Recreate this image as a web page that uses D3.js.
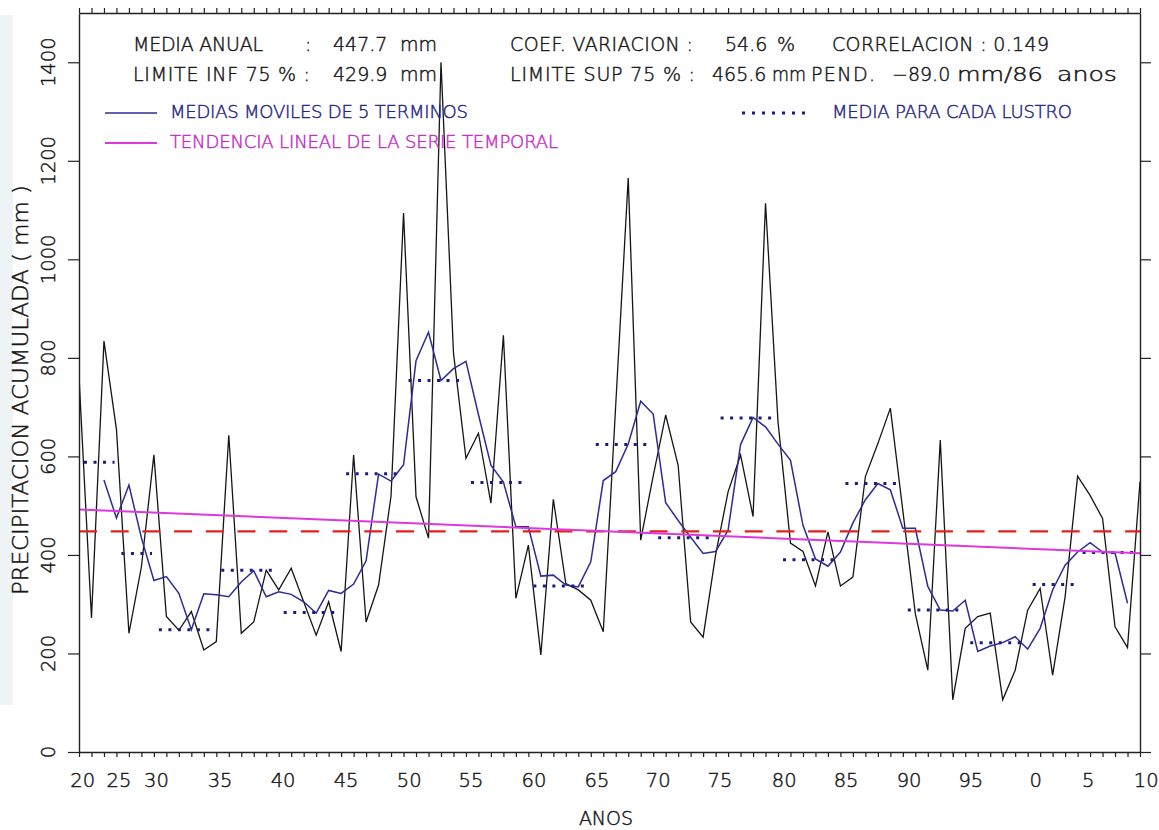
<!DOCTYPE html>
<html>
<head>
<meta charset="utf-8">
<script src="https://cdn.jsdelivr.net/npm/d3@7"></script>
<style>
  html, body { margin: 0; padding: 0; background: #fff; }
  svg { display: block; }
  text { font-family: "DejaVu Sans", sans-serif; font-weight: 300; stroke-width: 0.45px; }
</style>
</head>
<body>
<svg id="chart" width="1159" height="830"></svg>
<script>
// ---- Serie anual de precipitacion acumulada (mm), 1924-2009 ----
const firstYear = 1924;
const annualPrecip = [
  762, 272, 834, 655, 241, 376, 603, 275, 247, 285,
  207, 224, 643, 241, 264, 369, 329, 373, 305, 237,
  305, 204, 603, 264, 339, 520, 1094, 518, 434, 1400,
  810, 596, 647, 505, 846, 312, 420, 197, 513, 342,
  329, 308, 244, 705, 1165, 430, 560, 684, 582, 264,
  233, 400, 528, 603, 478, 1114, 670, 424, 407, 337,
  447, 337, 355, 559, 626, 698, 490, 281, 166, 633,
  106, 251, 275, 282, 106, 166, 288, 332, 156, 315,
  560, 521, 474, 254, 212, 549
];

// Medias moviles de 5 terminos (desde 1926)
const movingAvgFirstYear = 1926;
const movingAvg5 = [
  552, 475, 542, 435, 348, 356, 322, 248, 321, 319,
  315, 345, 368, 315, 325, 320, 305, 282, 328, 322,
  341, 388, 564, 550, 583, 794, 852, 754, 778, 793,
  685, 582, 548, 457, 457, 357, 359, 339, 335, 386,
  551, 569, 625, 712, 686, 506, 470, 436, 403, 407,
  450, 624, 679, 660, 625, 592, 460, 392, 377, 406,
  465, 512, 545, 532, 454, 454, 336, 288, 286, 308,
  204, 215, 222, 234, 209, 251, 329, 379, 406, 425,
  406, 404, 302
];

// Media para cada lustro
const lustroFirst = [1925, 1928, 1931, 1936, 1941, 1946, 1951, 1956, 1961, 1966, 1971, 1976, 1981, 1986, 1991, 1996, 2001, 2005];
const lustroLast  = [1927, 1930, 1935, 1940, 1945, 1950, 1955, 1960, 1965, 1970, 1975, 1980, 1985, 1990, 1995, 2000, 2004, 2009];
const lustroMean  = [588, 403, 248, 369, 283, 565, 754, 547, 337, 624, 435, 678, 390, 545, 288, 222, 340, 405];

// Estadisticos de la serie
const mediaAnual = 447.7;
const limiteInf75 = 429.9;
const limiteSup75 = 465.6;
const coefVariacion = 54.6;
const correlacion = 0.149;
const pendiente = -89.0;
const anosSerie = 86;

// Ejes
const yTicks = [0, 200, 400, 600, 800, 1000, 1200, 1400];
const xTickLabels = ["20", "25", "30", "35", "40", "45", "50", "55", "60", "65", "70", "75", "80", "85", "90", "95", "0", "5", "10"];
const xTickLabelYears = [1924.3, 1927.2, 1930.2, 1935.3, 1940.35, 1945.4, 1950.45, 1955.4, 1960.45, 1965.5, 1970.4, 1975.35, 1980.5, 1985.45, 1990.5, 1995.45, 2000.65, 2004.85, 2009.5];

// ---- Layout ----
const W = 1159, H = 830;
const plot = { left: 79, right: 1140, top: 13, bottom: 752 };
const lastYear = firstYear + annualPrecip.length - 1;
const years = annualPrecip.map((_, i) => firstYear + i);

const x = d3.scaleLinear().domain([firstYear, lastYear]).range([plot.left, plot.right]);
const y = d3.scaleLinear().domain([0, 1500]).range([plot.bottom, plot.top]);

const svg = d3.select("#chart");
svg.append("rect").attr("width", W).attr("height", H).attr("fill", "#fff");
svg.append("rect").attr("x", 0).attr("y", 15).attr("width", 13).attr("height", 690).attr("fill", "#eef3f5");

svg.append("clipPath").attr("id", "plotClip")
  .append("rect")
  .attr("x", plot.left).attr("y", plot.top)
  .attr("width", plot.right - plot.left).attr("height", plot.bottom - plot.top);

const marks = svg.append("g").attr("clip-path", "url(#plotClip)");

// serie anual
const line = d3.line().x(d => x(d[0])).y(d => y(d[1]));
marks.append("path")
  .datum(years.map((yr, i) => [yr, annualPrecip[i]]))
  .attr("d", line)
  .attr("fill", "none").attr("stroke", "#151515").attr("stroke-width", 1.3)
  .attr("stroke-linejoin", "miter");

// medias moviles
marks.append("path")
  .datum(movingAvg5.map((v, i) => [movingAvgFirstYear + i, v]))
  .attr("d", line)
  .attr("fill", "none").attr("stroke", "#2c2c96").attr("stroke-width", 1.5);

// media por lustro
marks.selectAll(".lustro")
  .data(lustroMean.map((m, i) => ({ a: lustroFirst[i], b: lustroLast[i], m })))
  .enter().append("line")
  .attr("class", "lustro")
  .attr("x1", d => x(Math.max(firstYear, d.a - 0.6)))
  .attr("x2", d => x(d.b - 0.15))
  .attr("y1", d => y(d.m)).attr("y2", d => y(d.m))
  .attr("stroke", "#1c1c80").attr("stroke-width", 3)
  .attr("stroke-dasharray", "3,6.5");

// media anual
marks.append("line")
  .attr("x1", x(firstYear)).attr("x2", x(lastYear))
  .attr("y1", y(mediaAnual)).attr("y2", y(mediaAnual))
  .attr("stroke", "#e3201c").attr("stroke-width", 2.2)
  .attr("stroke-dasharray", "18,13.7");

// tendencia lineal
const trendStart = mediaAnual - pendiente / 2;
const trendEnd = mediaAnual + pendiente / 2;
marks.append("line")
  .attr("x1", x(firstYear)).attr("x2", x(lastYear))
  .attr("y1", y(trendStart)).attr("y2", y(trendEnd))
  .attr("stroke", "#dd38dd").attr("stroke-width", 2);

// ---- Ejes ----
const axisColor = "#222";
function styleAxis(g) {
  g.selectAll("path").attr("stroke", axisColor).attr("stroke-width", 1.4);
  g.selectAll("line").attr("stroke", axisColor).attr("stroke-width", 1.2);
  g.selectAll("text").remove();
}
svg.append("g").attr("transform", `translate(0,${plot.bottom})`)
  .call(d3.axisBottom(x).tickValues(years).tickSize(5).tickSizeOuter(0).tickFormat(""))
  .call(styleAxis);
svg.append("g").attr("transform", `translate(0,${plot.top})`)
  .call(d3.axisTop(x).tickValues(years).tickSize(5).tickSizeOuter(0).tickFormat(""))
  .call(styleAxis);
svg.append("g").attr("transform", `translate(${plot.left},0)`)
  .call(d3.axisLeft(y).tickValues(yTicks).tickSize(11).tickSizeOuter(0).tickFormat(""))
  .call(styleAxis);
svg.append("g").attr("transform", `translate(${plot.right},0)`)
  .call(d3.axisRight(y).tickValues(yTicks).tickSize(11).tickSizeOuter(0).tickFormat(""))
  .call(styleAxis);

const textColor = "#161616";

// etiquetas del eje Y (giradas)
svg.selectAll(".ylab").data(yTicks).enter().append("text")
  .attr("class", "ylab")
  .attr("transform", d => `translate(48,${y(d)}) rotate(-90)`)
  .attr("text-anchor", "middle").attr("dy", "0.36em")
  .attr("font-size", 19.5).attr("fill", textColor).attr("stroke", textColor)
  .text(d => d);

// etiquetas del eje X
svg.selectAll(".xlab").data(xTickLabels).enter().append("text")
  .attr("class", "xlab")
  .attr("x", (d, i) => x(xTickLabelYears[i]))
  .attr("y", 787)
  .attr("text-anchor", "middle")
  .attr("font-size", 19.5).attr("fill", textColor).attr("stroke", textColor)
  .text(d => d);

// titulos de ejes
svg.append("text")
  .attr("x", 606).attr("y", 825).attr("text-anchor", "middle")
  .attr("font-size", 19).attr("fill", textColor).attr("stroke", textColor).text("ANOS");
svg.append("text")
  .attr("transform", "translate(28,595) rotate(-90)")
  .attr("font-size", 21).attr("fill", textColor).attr("stroke", textColor)
  .attr("textLength", 410).attr("lengthAdjust", "spacingAndGlyphs")
  .text("PRECIPITACION ACUMULADA ( mm )");

// ---- Cabecera con estadisticos ----
const f1 = v => v.toFixed(1);
// [texto, x, linea base, ancho, ajuste]
const header = [
  ["MEDIA ANUAL", 133, 51, 130, "spacing"],
  [":", 305, 51, 0],
  [f1(mediaAnual), 333, 51, 0],
  ["mm", 400, 51, 0],
  ["COEF. VARIACION :", 510, 51, 183, "spacing"],
  [f1(coefVariacion), 725, 51, 0],
  ["%", 777, 51, 0],
  ["CORRELACION : " + correlacion.toFixed(3), 832, 51, 217, "spacing"],
  ["LIMITE INF 75 % :", 133, 81, 177, "spacing"],
  [f1(limiteInf75), 333, 81, 0],
  ["mm", 400, 81, 0],
  ["LIMITE SUP 75 % :", 510, 81, 185, "spacing"],
  [f1(limiteSup75), 712, 81, 0],
  ["mm", 772, 81, 34, "spacingAndGlyphs"],
  ["PEND.", 811, 81, 64, "spacing"],
  [f1(pendiente).replace("-", "\u2212"), 892, 81, 0],
  ["mm/" + anosSerie, 957, 81, 86, "spacingAndGlyphs"],
  ["anos", 1057, 81, 60, "spacingAndGlyphs"]
];
svg.selectAll(".hdr").data(header).enter().append("text")
  .attr("class", "hdr")
  .attr("x", d => d[1]).attr("y", d => d[2])
  .attr("font-size", 19).attr("fill", textColor).attr("stroke", textColor)
  .each(function (d) {
    if (d[3] > 0) d3.select(this).attr("textLength", d[3]).attr("lengthAdjust", d[4]);
  })
  .text(d => d[0]);

// ---- Leyenda ----
const blueText = "#26267f", magText = "#c52cc5";
svg.append("line").attr("x1", 105).attr("x2", 157).attr("y1", 113).attr("y2", 113)
  .attr("stroke", "#2c2c96").attr("stroke-width", 1.5);
svg.append("line").attr("x1", 105).attr("x2", 157).attr("y1", 143).attr("y2", 143)
  .attr("stroke", "#dd38dd").attr("stroke-width", 1.8);
svg.append("line").attr("x1", 742).attr("x2", 805).attr("y1", 113).attr("y2", 113)
  .attr("stroke", "#1c1c80").attr("stroke-width", 3).attr("stroke-dasharray", "3,7");

const legend = [
  ["MEDIAS MOVILES DE 5 TERMINOS", 170, 118, 298, blueText],
  ["MEDIA PARA CADA LUSTRO", 832, 118, 240, blueText],
  ["TENDENCIA LINEAL DE LA SERIE TEMPORAL", 170, 148, 388, magText]
];
svg.selectAll(".leg").data(legend).enter().append("text")
  .attr("class", "leg")
  .attr("x", d => d[1]).attr("y", d => d[2])
  .attr("font-size", 18).attr("fill", d => d[4]).attr("stroke", d => d[4])
  .attr("textLength", d => d[3]).attr("lengthAdjust", "spacing")
  .text(d => d[0]);
</script>
</body>
</html>
